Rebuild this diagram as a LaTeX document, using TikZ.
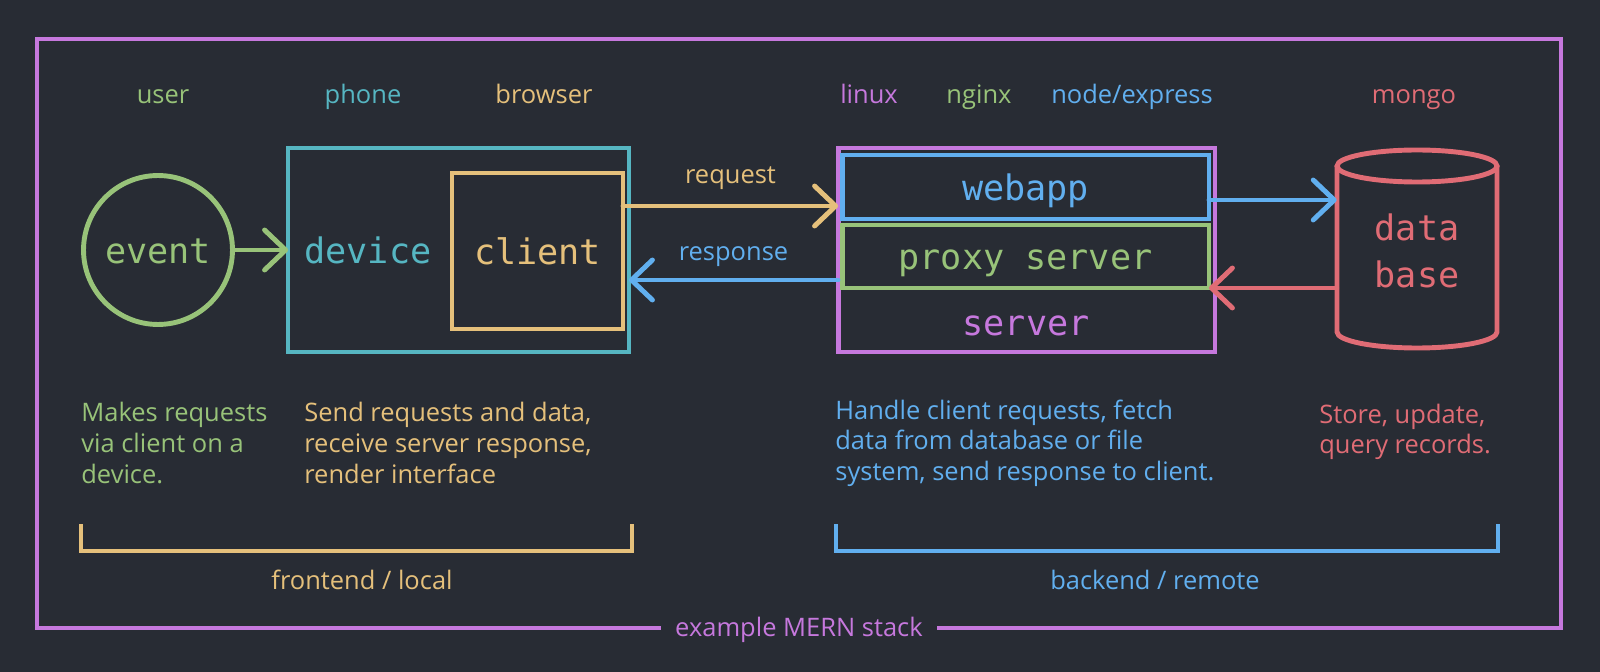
\documentclass[tikz,border=0pt]{standalone}
\usepackage{fontspec}
\setmainfont{Open Sans}
\newfontfamily\monofont{DejaVu Sans Mono}
\usetikzlibrary{arrows.meta}

\definecolor{bgcol}{HTML}{282C34}
\definecolor{mpurple}{HTML}{C678DD}
\definecolor{mgreen}{HTML}{98C379}
\definecolor{mcyan}{HTML}{56B6C2}
\definecolor{myellow}{HTML}{E5C07B}
\definecolor{mblue}{HTML}{61AFEF}
\definecolor{mred}{HTML}{E06C75}

\begin{document}
\begin{tikzpicture}[x=0.02cm, y=-0.02cm]
	\def\toprow{98}
	\def\midrow{250}
	\def\descrow{443}
	\def\arow{524}
	\def\aarow{551}
	\def\labrow{584}

	\tikzset{
		basic/.style={rectangle, draw, line width=2.8pt, inner sep=0pt, outer sep=0pt},
		boxnode/.style={basic, font=\monofont\fontsize{20}{24}\selectfont, text height=15pt, text depth=0pt},
		codetext/.style={font=\monofont\fontsize{20}{26.5}\selectfont, inner sep=0pt, text height=15pt, text depth=0pt},
		toplabel/.style={font=\fontsize{14.5}{17.4}\selectfont, inner sep=0pt, text height=8pt, text depth=1.3pt},
		desc/.style={font=\fontsize{14.5}{17.4}\selectfont, align=left, anchor=west, inner sep=0pt},
		sarrow/.style={-{Straight Barb[length=4.2mm, width=8mm, round]}, line width=2.8pt, line cap=round},
		bracket/.style={line width=2.8pt}
	}

	\useasboundingbox (0,0) rectangle (1600,672);
	\fill[bgcol] (0,0) rectangle (1600,672);

	% outer frame
	\draw[mpurple, line width=2.8pt] (37,39) rectangle (1561,628);
	\node[toplabel, fill=bgcol, inner xsep=0.28cm, text=mpurple] (stack) at (799,631) {example MERN stack};

	% top labels
	\node[toplabel, text=mgreen] (user) at (163,\toprow) {user};
	\node[toplabel, text=mcyan] (phone) at (363,\toprow) {phone};
	\node[toplabel, text=myellow] (browser) at (544,\toprow) {browser};
	\node[toplabel, text=mpurple] (linux) at (869,\toprow) {linux};
	\node[toplabel, text=mgreen] (nginx) at (979,\toprow) {nginx};
	\node[toplabel, text=mblue] (express) at (1132,\toprow) {node/express};
	\node[toplabel, text=mred] (mongo) at (1414,\toprow) {mongo};

	% internal Nodes
	\node[boxnode, circle, draw=mgreen, text=mgreen, minimum size=2.98cm] (event) at (158,\midrow) {event};
	\node[basic, draw=mcyan, minimum width=6.82cm, minimum height=4.08cm] (device) at (458.5,\midrow) {};
	\node[codetext, text=mcyan] (devicetxt) at (368,\midrow) {device};
	\node[boxnode, draw=myellow, text=myellow, minimum width=3.42cm, minimum height=3.12cm] (client) at (537.5,251) {client};

	\node[basic, draw=mpurple, minimum width=7.54cm, minimum height=4.08cm] (server) at (1026.5,\midrow) {};
	\node[boxnode, draw=mblue, text=mblue, minimum width=7.34cm, minimum height=1.28cm] (webapp) at (1025.5,187) {webapp};
	\node[boxnode, draw=mgreen, text=mgreen, minimum width=7.34cm, minimum height=1.26cm] (proxy) at (1025.5,256.5) {proxy server};
	\node[codetext, text=mpurple] (servertxt) at (1026,322) {server};

	\node[codetext, text=mred, align=center, text height=, text depth=, minimum width=3.2cm] (db) at (1417,251) {data\\base};
	\draw[mred, line width=2.8pt] (1417,166) ellipse [x radius=80, y radius=16];
	\draw[mred, line width=2.8pt] (1337,166) -- (1337,332) arc[start angle=180, end angle=0, x radius=80, y radius=16] -- (1497,166);

	% interconnect arrows
	\draw[sarrow, mgreen] (event) -- (device);
	\draw[sarrow, myellow] ([yshift=0.9cm]client.east) -- ([yshift=0.9cm]client.east -| server.west)
		node[midway, toplabel, yshift=0.56cm, text=myellow] (request) {request};
	\draw[sarrow, mblue] ([yshift=-0.6cm]server.west) -- ([yshift=-0.6cm]server.west -| device.east)
		node[midway, toplabel, yshift=0.51cm, text=mblue] (response) {response};
	\draw[sarrow, mblue] ([yshift=-0.26cm]webapp.east) -- ([yshift=-0.26cm]webapp.east -| db.west);
	\draw[sarrow, mred] ([yshift=-0.74cm]db.west) -- ([yshift=-0.74cm]db.west -| proxy.east);

	% descriptions
	\node[desc, text=mgreen] (userdesc) at (81,\descrow) {Makes requests\\via client on a\\device.};
	\node[desc, text=myellow] (clientdesc) at (304,\descrow) {Send requests and data,\\receive server response,\\render interface};
	\node[desc, text=mblue] (serverdesc) at (835,\descrow) {Handle client requests, fetch\\data from database or file\\system, send response to client.};
	\node[desc, text=mred] (dbdesc) at (1319,432) {Store, update,\\query records.};

	% brackets
	\draw[bracket, myellow] (81,\arow) -- (81,\aarow) -- (632,\aarow) -- (632,\arow);
	\node[toplabel, text=myellow] (frontend) at (362,\labrow) {frontend / local};
	\draw[bracket, mblue] (836,\arow) -- (836,\aarow) -- (1498,\aarow) -- (1498,\arow);
	\node[toplabel, text=mblue] (backend) at (1155,\labrow) {backend / remote};
\end{tikzpicture}
\end{document}
